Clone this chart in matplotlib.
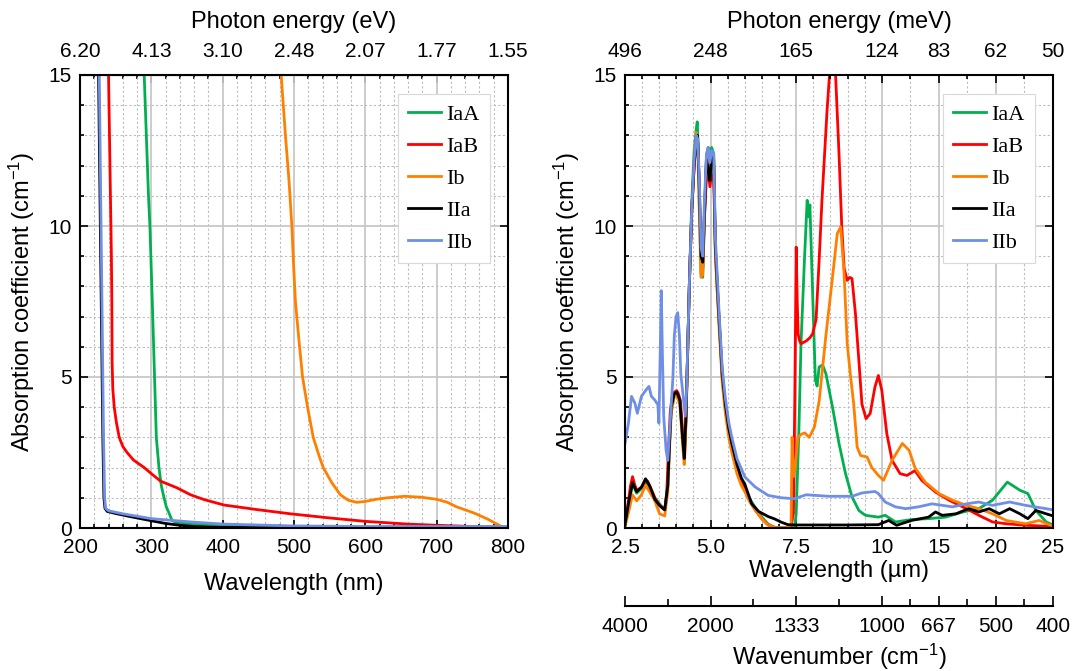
import numpy as np
import matplotlib
matplotlib.use('Agg')
import matplotlib.pyplot as plt
from matplotlib.ticker import FixedLocator, MultipleLocator

plt.rcParams['font.family'] = ['Liberation Sans', 'DejaVu Sans']
plt.rcParams['mathtext.default'] = 'regular'

# ---------------- data: UV-VIS (left) ----------------
series_names = ['IaA', 'IaB', 'Ib', 'IIa', 'IIb']
series_colors = ['#00b050', '#ff0000', '#ff8000', '#000000', '#6f8fe6']

vis_IaA_x = [290, 293, 296, 298, 300, 302, 304.5, 307, 310.7, 314, 317.8, 321, 324.7, 329, 335, 346, 360, 380, 420, 450, 500, 550, 600, 700, 800]
vis_IaA_y = [15, 13, 11, 10, 8.5, 7, 5, 3, 2, 1.4, 1.0, 0.7, 0.5, 0.25, 0.18, 0.15, 0.12, 0.1, 0.07, 0.05, 0.03, 0.02, 0.01, 0.01, 0.01]

vis_IaB_x = [240, 242, 244, 244.6, 245, 246, 248, 251, 255, 260, 266, 275, 290, 300, 313, 336, 355, 374, 402, 448, 495, 551, 600, 659, 700, 750, 800]
vis_IaB_y = [15, 12, 9, 7.6, 5.5, 4.6, 4.0, 3.5, 3.0, 2.7, 2.5, 2.25, 2.0, 1.8, 1.55, 1.33, 1.1, 0.94, 0.76, 0.61, 0.47, 0.33, 0.22, 0.13, 0.09, 0.05, 0.03]

vis_Ib_x = [482, 488, 493, 497, 499, 502, 507, 512, 519, 527, 535, 541, 553, 565, 576, 588, 600, 615, 631, 655, 678, 700, 715, 728, 752, 771, 787, 795]
vis_Ib_y = [15, 13, 11.5, 10, 8.9, 7.5, 6.2, 5, 4, 3, 2.4, 2.0, 1.5, 1.1, 0.92, 0.85, 0.88, 0.95, 1.0, 1.05, 1.02, 0.95, 0.85, 0.7, 0.5, 0.3, 0.1, 0.0]

vis_IIa_x = [226, 228, 230, 232, 233.5, 235, 238, 250, 270, 300, 320, 340, 360, 380, 400, 450, 500, 600, 800]
vis_IIa_y = [15, 11, 7, 3, 1.0, 0.65, 0.55, 0.48, 0.38, 0.24, 0.15, 0.09, 0.05, 0.03, 0.02, 0.01, 0.01, 0.01, 0.01]

vis_IIb_x = [227, 229, 231, 233, 234.5, 236, 240, 260, 300, 355, 400, 448, 495, 550, 600, 700, 800]
vis_IIb_y = [15, 11, 7, 3, 1.0, 0.65, 0.57, 0.47, 0.31, 0.2, 0.13, 0.1, 0.07, 0.06, 0.05, 0.05, 0.05]

vis_ticks_nm = [200, 300, 400, 500, 600, 700, 800]
vis_energy_labels = ['6.20', '4.13', '3.10', '2.48', '2.07', '1.77', '1.55']

# ---------------- data: IR (right) ----------------
ir_IaA_x = [2.5, 2.6, 2.72, 2.84, 2.98, 3.1, 3.22, 3.37, 3.51, 3.66, 3.75, 3.8, 3.85, 3.94, 4.01, 4.1, 4.18, 4.23, 4.28, 4.33, 4.38, 4.45, 4.52, 4.58, 4.61, 4.64, 4.68, 4.72, 4.77, 4.82, 4.88, 4.93, 4.98, 5.03, 5.09, 5.14, 5.24, 5.34, 5.43, 5.53, 5.62, 5.77, 5.9, 6.0, 6.15, 6.3, 6.5, 6.68, 6.87, 7.2, 7.45, 7.5, 7.58, 7.64, 7.74, 7.82, 7.87, 7.9, 7.98, 8.06, 8.11, 8.17, 8.27, 8.37, 8.56, 8.75, 8.94, 9.13, 9.33, 9.52, 9.9, 10.3, 11.2, 12.6, 14.1, 15.6, 17.1, 18.5, 19.7, 21.0, 22.1, 22.8, 23.5, 24.4, 25]
ir_IaA_y = [0.1, 0.7, 1.47, 1.15, 1.3, 1.55, 1.35, 1.0, 0.8, 0.6, 1.4, 2.8, 3.9, 4.4, 4.45, 4.2, 3.1, 2.35, 3.6, 5.8, 8.1, 10.8, 12.5, 13.2, 13.45, 12.5, 10.2, 8.4, 8.3, 10.2, 12.3, 12.6, 12.0, 12.6, 12.4, 9.2, 7.0, 5.0, 4.0, 3.24, 2.7, 2.0, 1.55, 1.3, 0.95, 0.69, 0.36, 0.13, 0.02, 0.0, 0.0, 0.47, 3.3, 6.1, 8.86, 10.85, 10.3, 10.7, 7.76, 4.9, 4.7, 5.33, 5.4, 5.1, 4.0, 2.8, 1.8, 1.03, 0.58, 0.42, 0.36, 0.42, 0.2, 0.28, 0.31, 0.36, 0.53, 0.64, 0.92, 1.52, 1.25, 1.14, 0.58, 0.2, 0.1]

ir_IaB_x = [2.5, 2.55, 2.6, 2.66, 2.72, 2.78, 2.84, 2.92, 2.98, 3.05, 3.1, 3.16, 3.22, 3.3, 3.37, 3.45, 3.51, 3.58, 3.66, 3.72, 3.77, 3.82, 3.87, 3.94, 4.01, 4.06, 4.12, 4.16, 4.2, 4.24, 4.28, 4.33, 4.38, 4.45, 4.52, 4.58, 4.62, 4.67, 4.72, 4.77, 4.82, 4.88, 4.93, 4.98, 5.03, 5.09, 5.14, 5.19, 5.24, 5.34, 5.43, 5.53, 5.62, 5.77, 5.9, 6.0, 6.15, 6.3, 6.5, 6.68, 6.87, 7.0, 7.2, 7.35, 7.42, 7.46, 7.5, 7.53, 7.56, 7.6, 7.64, 7.72, 7.8, 7.9, 7.98, 8.08, 8.17, 8.25, 8.32, 8.4, 8.46, 8.5, 8.6, 8.65, 8.75, 8.83, 8.9, 8.99, 9.06, 9.13, 9.23, 9.33, 9.42, 9.54, 9.66, 9.8, 9.9, 10.0, 10.44, 10.9, 11.6, 12.2, 12.9, 13.5, 14.7, 15.9, 17.4, 18.5, 19.7, 20.9, 22.6, 25]
ir_IaB_y = [0.1, 0.5, 0.9, 1.4, 1.7, 1.45, 1.25, 1.3, 1.35, 1.45, 1.6, 1.55, 1.4, 1.2, 1.0, 0.85, 0.75, 0.68, 0.6, 1.2, 2.6, 3.8, 4.3, 4.5, 4.55, 4.45, 4.2, 3.6, 2.8, 2.3, 3.5, 5.8, 8.1, 10.5, 12.0, 12.7, 12.9, 11.3, 8.9, 8.6, 10.3, 11.6, 11.8, 11.3, 11.7, 11.6, 9.2, 8.0, 7.0, 5.0, 4.0, 3.2, 2.65, 1.95, 1.5, 1.25, 0.9, 0.6, 0.3, 0.1, 0.02, 0.0, 0.0, 0.05, 0.5, 4.4, 9.3, 7.5, 6.4, 6.2, 6.1, 6.15, 6.2, 6.3, 6.43, 6.9, 8.86, 10.8, 12.2, 13.8, 14.8, 15.5, 15.8, 15.0, 12.4, 10.0, 8.6, 8.2, 8.3, 8.26, 7.1, 5.55, 4.1, 3.62, 3.79, 4.67, 5.05, 4.56, 3.12, 2.24, 1.8, 1.74, 1.9, 1.58, 1.19, 0.92, 0.64, 0.42, 0.2, 0.14, 0.09, 0.05]

ir_Ib_x = [2.5, 2.6, 2.72, 2.84, 2.98, 3.1, 3.22, 3.37, 3.51, 3.66, 3.75, 3.8, 3.85, 3.94, 4.01, 4.1, 4.18, 4.23, 4.28, 4.33, 4.38, 4.45, 4.52, 4.58, 4.62, 4.67, 4.72, 4.77, 4.82, 4.88, 4.93, 4.98, 5.03, 5.09, 5.14, 5.24, 5.34, 5.43, 5.53, 5.62, 5.77, 5.9, 6.0, 6.15, 6.3, 6.5, 6.68, 6.87, 7.2, 7.35, 7.38, 7.42, 7.47, 7.55, 7.64, 7.75, 7.88, 8.03, 8.17, 8.37, 8.56, 8.7, 8.8, 8.9, 8.99, 9.09, 9.18, 9.28, 9.38, 9.57, 9.71, 9.9, 10.15, 10.9, 11.8, 12.4, 12.9, 13.8, 15.0, 16.2, 17.4, 18.5, 19.7, 20.9, 22.6, 23.8, 24.7, 25]
ir_Ib_y = [0.05, 0.5, 1.1, 0.9, 1.1, 1.41, 1.2, 0.9, 0.47, 0.4, 1.2, 2.6, 3.8, 4.35, 4.4, 4.1, 2.8, 2.1, 3.5, 5.8, 8.0, 10.5, 12.2, 13.1, 12.8, 10.5, 8.3, 8.4, 10.5, 12.3, 12.5, 12.0, 12.4, 12.3, 9.0, 6.8, 4.8, 3.8, 3.0, 2.5, 1.8, 1.4, 1.2, 0.85, 0.6, 0.3, 0.1, 0.02, 0.0, 0.1, 3.0, 1.7, 2.0, 3.0, 3.1, 3.15, 3.0, 3.34, 4.2, 6.4, 8.3, 9.75, 9.97, 8.4, 6.1, 5.0, 4.1, 2.68, 2.4, 2.35, 2.0, 1.74, 1.58, 2.24, 2.8, 2.57, 2.0, 1.52, 1.14, 0.92, 0.75, 0.64, 0.47, 0.25, 0.14, 0.25, 0.1, 0.08]

ir_IIa_x = [2.5, 2.6, 2.72, 2.84, 2.98, 3.1, 3.22, 3.37, 3.51, 3.66, 3.75, 3.8, 3.85, 3.94, 4.01, 4.1, 4.18, 4.23, 4.28, 4.33, 4.38, 4.45, 4.52, 4.58, 4.62, 4.67, 4.72, 4.77, 4.82, 4.88, 4.93, 4.98, 5.03, 5.09, 5.14, 5.24, 5.34, 5.43, 5.53, 5.62, 5.77, 5.9, 6.0, 6.2, 6.4, 6.68, 6.87, 7.07, 7.26, 7.5, 8.0, 9.0, 9.9, 10.6, 11.3, 12.6, 14.1, 14.7, 15.3, 16.5, 17.6, 18.5, 19.4, 20.3, 21.2, 22.1, 22.8, 23.5, 24.4, 25]
ir_IIa_y = [0.1, 0.8, 1.5, 1.2, 1.35, 1.63, 1.4, 0.95, 0.74, 0.6, 1.4, 2.8, 4.0, 4.45, 4.5, 4.25, 3.0, 2.3, 3.7, 5.9, 8.1, 10.5, 12.0, 12.9, 13.0, 11.3, 9.0, 8.8, 10.4, 12.2, 11.9, 11.5, 12.3, 12.2, 9.3, 7.1, 5.1, 4.1, 3.3, 2.8, 2.1, 1.65, 1.45, 0.8, 0.55, 0.38, 0.3, 0.19, 0.11, 0.1, 0.1, 0.1, 0.11, 0.25, 0.09, 0.25, 0.36, 0.53, 0.42, 0.47, 0.64, 0.53, 0.64, 0.47, 0.64, 0.47, 0.31, 0.58, 0.47, 0.4]

ir_IIb_x = [2.5, 2.6, 2.69, 2.79, 2.86, 2.98, 3.12, 3.2, 3.27, 3.37, 3.46, 3.49, 3.53, 3.56, 3.59, 3.63, 3.7, 3.75, 3.83, 3.9, 3.94, 3.99, 4.04, 4.09, 4.13, 4.2, 4.26, 4.3, 4.34, 4.38, 4.45, 4.52, 4.58, 4.62, 4.67, 4.72, 4.77, 4.82, 4.88, 4.93, 4.98, 5.03, 5.09, 5.14, 5.24, 5.34, 5.43, 5.53, 5.62, 5.77, 6.0, 6.3, 6.68, 7.07, 7.45, 7.79, 8.46, 9.13, 9.42, 9.8, 9.9, 10.3, 11.2, 12.1, 13.2, 14.4, 16.2, 17.4, 18.5, 19.7, 21.2, 22.6, 24.4, 25]
ir_IIb_y = [2.8, 3.47, 4.36, 4.13, 3.8, 4.36, 4.58, 4.69, 4.36, 4.24, 4.08, 3.47, 5.9, 7.86, 5.9, 3.7, 2.58, 2.24, 3.7, 5.0, 6.36, 7.0, 7.13, 6.36, 5.1, 4.36, 3.7, 4.58, 6.36, 8.1, 10.6, 12.2, 13.0, 12.9, 11.6, 9.3, 9.0, 10.8, 12.4, 12.6, 12.1, 12.5, 12.4, 9.6, 7.3, 5.3, 4.3, 3.5, 3.0, 2.3, 1.69, 1.36, 1.08, 1.0, 0.97, 1.1, 1.05, 1.05, 1.16, 1.21, 1.14, 0.86, 0.7, 0.64, 0.7, 0.8, 0.7, 0.8, 0.86, 0.75, 0.86, 0.75, 0.64, 0.6]

ir_ticks_um = [2.5, 5.0, 7.5, 10, 15, 20, 25]
ir_tick_labels = ['2.5', '5.0', '7.5', '10', '15', '20', '25']
ir_energy_labels = ['496', '248', '165', '124', '83', '62', '50']
ir_wavenumber_labels = ['4000', '2000', '1333', '1000', '667', '500', '400']
ir_wavenumber_minor = [3.75, 6.25, 8.75, 12.5, 17.5, 22.5]
ir_grid_minor = [3.0, 3.5, 4.0, 4.5, 5.5, 6.0, 6.5, 7.0, 8.0, 8.5, 9.0, 9.5, 12.5, 17.5, 22.5]

vis_series = [(vis_IaA_x, vis_IaA_y), (vis_IaB_x, vis_IaB_y), (vis_Ib_x, vis_Ib_y),
              (vis_IIa_x, vis_IIa_y), (vis_IIb_x, vis_IIb_y)]
ir_series = [(ir_IaA_x, ir_IaA_y), (ir_IaB_x, ir_IaB_y), (ir_Ib_x, ir_Ib_y),
             (ir_IIa_x, ir_IIa_y), (ir_IIb_x, ir_IIb_y)]


# broken wavelength scale: 2.5-10 um stretched 3x relative to 10-25 um
def fwd(x):
    x = np.asarray(x, dtype=float)
    return np.where(x <= 10, 3.0 * x, x + 20.0)


def inv(t):
    t = np.asarray(t, dtype=float)
    return np.where(t <= 30, t / 3.0, t - 20.0)


W, H = 1075, 671
fig = plt.figure(figsize=(W / 100, H / 100), dpi=100)
ax_l = fig.add_axes([80 / W, 1 - 528 / H, 428 / W, 453 / H])
ax_r = fig.add_axes([625 / W, 1 - 528 / H, 428 / W, 453 / H])

TICK_FS = 15
LABEL_FS = 17
GRID_MAJ = '#c8c8c8'
GRID_MIN = '#bdbdbd'


def tick_style(axis_obj, pad):
    axis_obj.tick_params(which='both', direction='in', labelsize=TICK_FS, width=1.2,
                         pad=pad, colors='black')
    axis_obj.tick_params(which='major', length=6)
    axis_obj.tick_params(which='minor', length=3)


def style(ax):
    ax.set_ylim(0, 15)
    ax.yaxis.set_major_locator(FixedLocator([0, 5, 10, 15]))
    ax.yaxis.set_minor_locator(MultipleLocator(1))
    tick_style(ax, 6)
    ax.tick_params(top=False, right=True)
    ax.tick_params(axis='x', pad=7)
    ax.grid(which='major', color=GRID_MAJ, lw=1.3, ls='-')
    ax.grid(which='minor', color=GRID_MIN, lw=0.8, ls=(0, (2, 2)))
    ax.set_axisbelow(True)
    for s in ax.spines.values():
        s.set_linewidth(1.5)
    ax.set_ylabel('Absorption coefficient (cm$^{-1}$)', fontsize=LABEL_FS, labelpad=8)


def add_legend(ax):
    leg = ax.legend(loc='upper right', bbox_to_anchor=(0.958, 0.958), borderaxespad=0,
                    prop={'family': 'Liberation Serif', 'size': 16}, frameon=True,
                    fancybox=False, edgecolor='#d9d9d9', framealpha=1,
                    handlelength=1.5, handletextpad=0.25, labelspacing=0.52,
                    borderpad=0.45)
    leg.get_frame().set_linewidth(0.8)


# ---------- left panel ----------
for (x, y), name, c in zip(vis_series, series_names, series_colors):
    ax_l.plot(x, y, color=c, lw=2, label=name)
ax_l.set_xlim(200, 800)
ax_l.xaxis.set_major_locator(FixedLocator(vis_ticks_nm))
ax_l.xaxis.set_minor_locator(MultipleLocator(20))
style(ax_l)
ax_l.set_xlabel('Wavelength (nm)', fontsize=LABEL_FS, labelpad=12)
add_legend(ax_l)

top_l = ax_l.secondary_xaxis('top')
top_l.set_xticks(vis_ticks_nm, vis_energy_labels)
top_l.xaxis.set_minor_locator(MultipleLocator(20))
tick_style(top_l, 10)
top_l.set_xlabel('Photon energy (eV)', fontsize=LABEL_FS, labelpad=10)

# ---------- right panel ----------
for (x, y), name, c in zip(ir_series, series_names, series_colors):
    ax_r.plot(x, y, color=c, lw=2, label=name)
ax_r.set_xscale('function', functions=(fwd, inv))
ax_r.set_xlim(2.5, 25)
ax_r.xaxis.set_major_locator(FixedLocator(ir_ticks_um))
ax_r.set_xticklabels(ir_tick_labels)
ax_r.xaxis.set_minor_locator(FixedLocator(ir_grid_minor))
style(ax_r)
ax_r.set_xlabel('Wavelength (µm)', fontsize=LABEL_FS, labelpad=2)
add_legend(ax_r)

# top axis: photon energy (meV), same broken scale
top_r = ax_r.twiny()
top_r.set_xscale('function', functions=(fwd, inv))
top_r.set_xlim(2.5, 25)
top_r.xaxis.set_major_locator(FixedLocator(ir_ticks_um))
top_r.set_xticklabels(ir_energy_labels)
top_r.xaxis.set_minor_locator(FixedLocator(ir_grid_minor))
top_r.tick_params(axis='x', which='both', direction='in', labelsize=TICK_FS, width=1.2,
                  pad=10, bottom=False, labelbottom=False, top=True, labeltop=True)
top_r.tick_params(axis='x', which='major', length=6)
top_r.tick_params(axis='x', which='minor', length=3)
for s in top_r.spines.values():
    s.set_visible(False)
top_r.set_xlabel('Photon energy (meV)', fontsize=LABEL_FS, labelpad=10)

# extra bottom axis: wavenumber (cm-1)
wn = ax_r.twiny()
wn.set_xscale('function', functions=(fwd, inv))
wn.set_xlim(2.5, 25)
wn.xaxis.set_ticks_position('bottom')
wn.xaxis.set_label_position('bottom')
wn.spines['bottom'].set_position(('axes', -0.172))
for k in ('top', 'left', 'right'):
    wn.spines[k].set_visible(False)
wn.spines['bottom'].set_linewidth(1.5)
wn.xaxis.set_major_locator(FixedLocator(ir_ticks_um))
wn.set_xticklabels(ir_wavenumber_labels)
wn.xaxis.set_minor_locator(FixedLocator(ir_wavenumber_minor))
wn.tick_params(axis='x', which='both', direction='in', labelsize=TICK_FS, width=1.2,
               pad=8, top=False, bottom=True)
wn.tick_params(axis='x', which='major', length=7)
wn.tick_params(axis='x', which='minor', length=5)
wn.set_xlabel('Wavenumber (cm$^{-1}$)', fontsize=LABEL_FS, labelpad=4)

fig.savefig('out.png', dpi=100)
